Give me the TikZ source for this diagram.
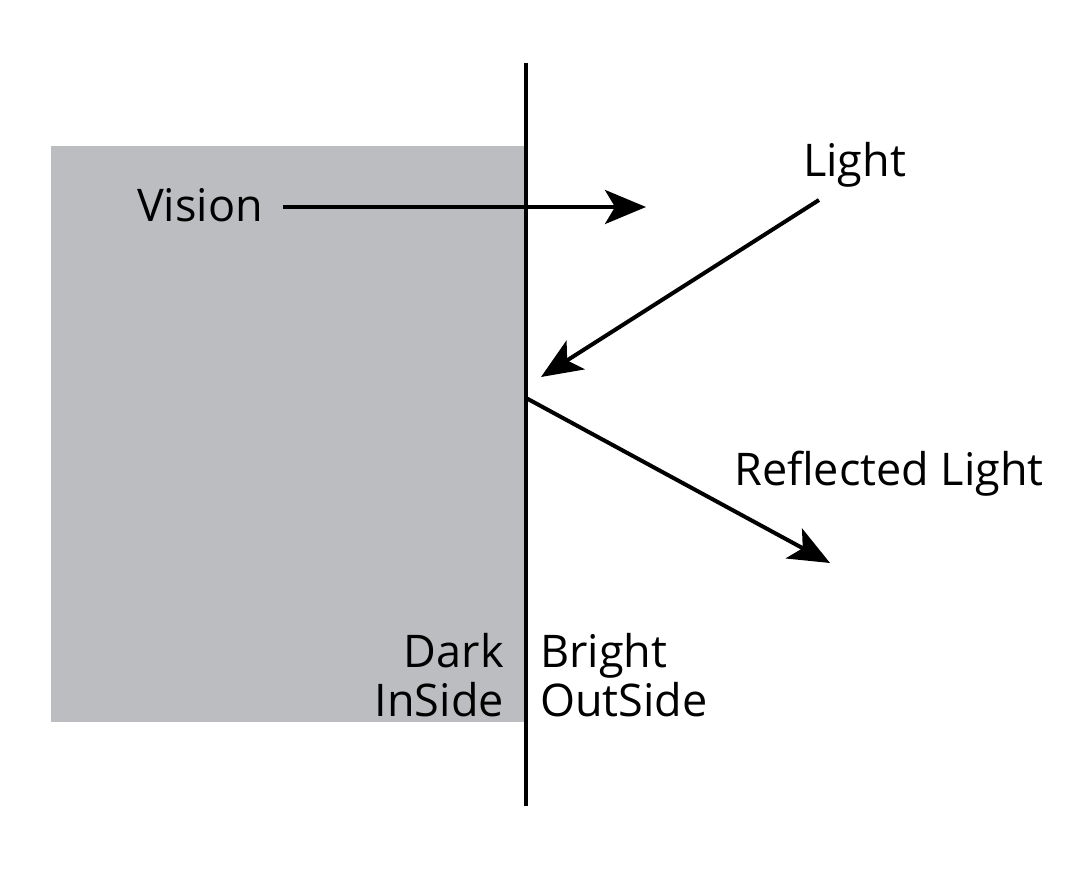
\documentclass[tikz,border=0pt]{standalone}
\usepackage{fontspec}
\setmainfont{Open Sans}
\usetikzlibrary{arrows.meta}
\definecolor{wallgray}{HTML}{BCBDC0}
\begin{document}
\begin{tikzpicture}[x=1pt,y=1pt,
  lbl/.style={inner sep=0pt,font=\fontsize{45}{49}\selectfont},
  ray/.style={line width=4pt,-{Stealth[length=41pt,width=34pt,inset=10pt]}}]
\useasboundingbox (0,0) rectangle (1089,883);
\fill[wallgray] (51,161) rectangle (525,737);
\coordinate (top) at (526,820);
\coordinate (bot) at (526,77);
\draw[line width=4pt] (top) -- (bot);
% Vision
\node[lbl,anchor=base west] (vision) at (137,661) {Vision};
\coordinate (vs) at (283,676);
\coordinate (ve) at (646,676);
\draw[ray] (vs) -- (ve);
% Light
\node[lbl,anchor=base west] (light) at (803,706) {Light};
\coordinate (ls) at (819,683);
\coordinate (le) at (541,506);
\draw[ray] (ls) -- (le);
% Reflected
\node[lbl,anchor=base west] (refl) at (734,397) {Reflected Light};
\coordinate (rs) at (526,485);
\coordinate (re) at (830,320);
\draw[ray] (rs) -- (re);
% labels
\node[lbl,anchor=base east] (dark) at (504,215) {Dark};
\node[lbl,anchor=base east] (inside) at (504,166) {InSide};
\node[lbl,anchor=base west] (bright) at (540,215) {Bright};
\node[lbl,anchor=base west] (outside) at (540,166) {OutSide};
\end{tikzpicture}
\end{document}
